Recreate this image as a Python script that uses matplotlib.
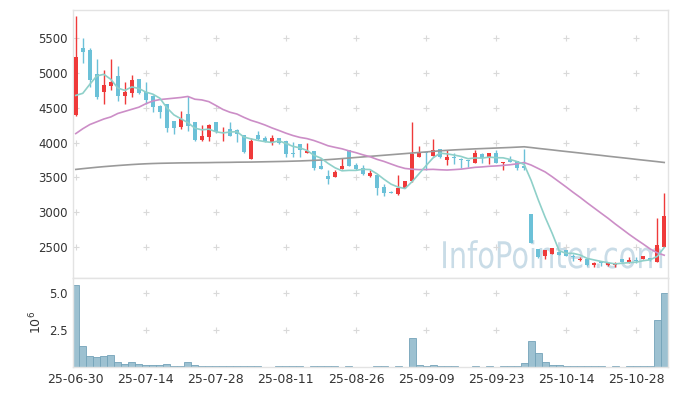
import numpy as np
import matplotlib
matplotlib.use("Agg")
import matplotlib.pyplot as plt
from matplotlib.ticker import FuncFormatter
from matplotlib.textpath import TextPath
from matplotlib.patches import PathPatch
from matplotlib.font_manager import FontProperties
from matplotlib.transforms import Affine2D


# daily candles, one per trading day (2025-06-30 .. 2025-11-03)
opens = [4400, 5360, 5330, 4990, 4730, 4810, 4960, 4670, 4720, 4910,
         4730, 4670, 4530, 4550, 4310, 4230, 4410, 4290, 4040, 4080,
         4290, 4140, 4190, 4180, 4110, 3760, 4110, 4060, 4010, 4060,
         4020, 3850, 3980, 3850, 3880, 3660, 3520, 3510, 3620, 3900,
         3680, 3640, 3520, 3540, 3360, 3290, 3260, 3350, 3440, 3800,
         3860, 3810, 3910, 3750, 3800, 3770, 3748, 3700, 3835, 3775,
         3845, 3710, 3750, 3740, 3670, 2970, 2470, 2370, 2400, 2430,
         2460, 2365, 2310, 2320, 2230, 2275, 2230, 2235, 2320, 2280,
         2300, 2330, 2335, 2285, 2490]
highs = [5820, 5500, 5370, 5210, 5040, 5210, 5100, 4870, 4980, 4910,
         4880, 4680, 4540, 4550, 4310, 4460, 4670, 4290, 4250, 4270,
         4290, 4230, 4300, 4200, 4110, 4060, 4170, 4100, 4110, 4060,
         4020, 4010, 3980, 3990, 3880, 3760, 3600, 3600, 3780, 3900,
         3700, 3680, 3600, 3540, 3410, 3300, 3540, 3450, 4300, 3950,
         3870, 4050, 3910, 3900, 3850, 3780, 3750, 3890, 3850, 3845,
         3890, 3725, 3805, 3740, 3910, 2970, 2470, 2450, 2480, 2430,
         2460, 2400, 2350, 2320, 2275, 2275, 2260, 2280, 2320, 2350,
         2350, 2370, 2340, 2920, 3270]
lows = [4390, 5140, 4800, 4630, 4560, 4760, 4600, 4560, 4650, 4700,
        4560, 4440, 4360, 4160, 4130, 4200, 4170, 4020, 4030, 4030,
        4140, 4030, 4100, 4010, 3850, 3760, 4040, 4010, 3960, 3980,
        3800, 3800, 3800, 3850, 3600, 3620, 3410, 3510, 3620, 3660,
        3600, 3530, 3510, 3250, 3230, 3270, 3250, 3340, 3430, 3790,
        3600, 3810, 3780, 3680, 3690, 3630, 3645, 3700, 3700, 3690,
        3710, 3600, 3720, 3600, 3600, 2555, 2340, 2330, 2400, 2380,
        2360, 2290, 2300, 2220, 2210, 2220, 2225, 2210, 2280, 2260,
        2260, 2330, 2290, 2280, 2490]
closes = [5240, 5300, 4900, 4650, 4830, 4880, 4670, 4730, 4900, 4720,
          4620, 4520, 4440, 4210, 4210, 4340, 4240, 4040, 4090, 4260,
          4150, 4160, 4100, 4120, 3870, 4020, 4050, 4010, 4060, 3990,
          3830, 3840, 3900, 3880, 3640, 3620, 3470, 3580, 3660, 3670,
          3620, 3550, 3560, 3350, 3280, 3270, 3340, 3450, 3840, 3860,
          3850, 3900, 3790, 3790, 3775, 3750, 3735, 3845, 3780, 3845,
          3710, 3725, 3725, 3630, 3640, 2560, 2350, 2450, 2475, 2380,
          2370, 2350, 2330, 2230, 2270, 2262, 2260, 2245, 2280, 2310,
          2295, 2365, 2310, 2525, 2950]
volumes = [5580000, 1450000, 760000, 690000, 760000, 830000, 340000, 210000, 340000, 210000,
           140000, 140000, 140000, 210000, 70000, 70000, 340000, 140000, 50000, 50000,
           50000, 50000, 50000, 50000, 50000, 50000, 50000, 5000, 5000, 40000,
           40000, 40000, 40000, 5000, 40000, 40000, 40000, 40000, 5000, 40000,
           5000, 5000, 5000, 40000, 40000, 5000, 40000, 5000, 1980000, 110000,
           40000, 150000, 40000, 40000, 40000, 5000, 5000, 40000, 5000, 40000,
           5000, 40000, 40000, 40000, 250000, 1790000, 940000, 320000, 130000, 130000,
           50000, 50000, 100000, 100000, 40000, 40000, 5000, 40000, 5000, 40000,
           40000, 40000, 40000, 3170000, 5030000]

# moving averages as drawn on the chart
ma5 = [4680, 4710, 4840, 4960, 4984, 4912, 4786, 4752, 4802, 4780,
       4728, 4698, 4640, 4502, 4400, 4344, 4288, 4208, 4184, 4194,
       4156, 4140, 4152, 4158, 4080, 4054, 4032, 4014, 4002, 4026,
       3988, 3946, 3924, 3888, 3818, 3776, 3702, 3638, 3594, 3600,
       3600, 3616, 3612, 3550, 3472, 3402, 3360, 3338, 3436, 3552,
       3668, 3780, 3848, 3838, 3821, 3801, 3768, 3779, 3777, 3791,
       3783, 3781, 3757, 3727, 3686, 3456, 3181, 2926, 2695, 2443,
       2405, 2405, 2381, 2332, 2310, 2288, 2270, 2253, 2263, 2271,
       2278, 2299, 2312, 2361, 2489]
ma20 = [4130, 4200, 4260, 4300, 4340, 4370, 4420, 4450, 4480, 4510,
        4560, 4600, 4620, 4630, 4640, 4650, 4665, 4625, 4615, 4590,
        4535, 4478, 4438, 4412, 4364, 4321, 4290, 4254, 4212, 4175,
        4136, 4102, 4075, 4058, 4030, 3994, 3955, 3932, 3911, 3881,
        3855, 3824, 3797, 3759, 3729, 3692, 3656, 3628, 3617, 3611,
        3612, 3615, 3609, 3605, 3611, 3618, 3631, 3644, 3650, 3659,
        3664, 3672, 3681, 3695, 3713, 3677, 3628, 3578, 3509, 3435,
        3361, 3284, 3211, 3133, 3058, 2983, 2909, 2829, 2754, 2678,
        2607, 2539, 2468, 2413, 2378]
ma_long = [3614, 3625, 3635, 3645, 3654, 3662, 3670, 3677, 3684, 3690,
           3695, 3699, 3702, 3704, 3706, 3708, 3709, 3710, 3711, 3712,
           3714, 3715, 3716, 3718, 3719, 3720, 3722, 3724, 3726, 3728,
           3730, 3733, 3736, 3740, 3744, 3749, 3755, 3762, 3770, 3778,
           3786, 3794, 3802, 3810, 3818, 3826, 3834, 3842, 3850, 3858,
           3866, 3874, 3882, 3889, 3895, 3900, 3905, 3910, 3914, 3918,
           3922, 3926, 3930, 3935, 3940, 3929, 3917, 3906, 3895, 3883,
           3872, 3861, 3850, 3838, 3827, 3816, 3804, 3793, 3782, 3771,
           3759, 3748, 3737, 3726, 3714]

tick_labels = ["25-06-30", "25-07-14", "25-07-28", "25-08-11", "25-08-26",
               "25-09-09", "25-09-23", "25-10-14", "25-10-28"]
price_ticks = [2500, 3000, 3500, 4000, 4500, 5000, 5500]
volume_ticks = [2500000, 5000000]

UP = "#ef3a3a"
DOWN = "#6cc1d8"
GRID = "#d9d9d9"
SPINE = "#e3e3e3"
TEXT = "#333333"


def style_axis(ax):
    for spine in ax.spines.values():
        spine.set_color(SPINE)
        spine.set_linewidth(1.0)
    ax.tick_params(length=0, colors=TEXT, labelsize=8.5)


def plus_grid(ax, xs, ys):
    gx, gy = np.meshgrid(xs, ys)
    ax.scatter(gx.ravel(), gy.ravel(), marker="+", s=22, color=GRID,
               linewidths=0.8, zorder=0)


def watermark(ax, text, left, baseline, width, cap_height):
    # text squeezed into a box given in axes fractions
    path = TextPath((0, 0), text, size=1, prop=FontProperties(family="DejaVu Sans"))
    ext = path.get_extents()
    sx = width / ext.width
    sy = cap_height / 0.729
    tr = Affine2D().translate(-ext.x0, 0).scale(sx, sy).translate(left, baseline)
    patch = PathPatch(path, transform=tr + ax.transAxes, facecolor="#c9dce7",
                      edgecolor="none", zorder=0)
    ax.add_patch(patch)


x = np.arange(len(closes))
o = np.array(opens)
c = np.array(closes)
up = c >= o
colors = np.where(up, UP, DOWN)
tick_pos = np.arange(0, len(closes), 10)[:len(tick_labels)]

fig = plt.figure(figsize=(6.77, 3.96), dpi=100)
ax = fig.add_axes([0.1078, 0.298, 0.879, 0.6767])
axv = fig.add_axes([0.1078, 0.0732, 0.879, 0.2248], sharex=ax)

watermark(ax, "InfoPointer.com", 0.622, 0.037, 0.368, 0.1)

plus_grid(ax, tick_pos, price_ticks)

# candles
ax.vlines(x, lows, highs, colors=colors, linewidth=1.0, zorder=2)
body = np.maximum(np.abs(c - o), 12)
ax.bar(x, body, bottom=np.minimum(o, c), width=0.65, color=colors,
       linewidth=0, zorder=3)

ax.plot(x, ma_long, color="#9a9a9a", linewidth=1.2, zorder=4)
ax.plot(x, ma20, color="#cc8ec7", linewidth=1.2, zorder=4)
ax.plot(x, ma5, color="#8fd0c9", linewidth=1.2, zorder=4)

ax.set_xlim(-0.4, 84.55)
ax.set_ylim(2050, 5910)
ax.set_yticks(price_ticks)
ax.tick_params(axis="x", labelbottom=False)
style_axis(ax)

# volume
plus_grid(axv, tick_pos, volume_ticks)
axv.bar(x, volumes, width=1.0, color="#9dc1d1", edgecolor="#74a3b9",
        linewidth=0.6, zorder=2)
axv.set_ylim(0, 6.03e6)
axv.set_yticks(volume_ticks)
axv.yaxis.set_major_formatter(FuncFormatter(lambda v, _: f"{v / 1e6:.1f}"))
axv.set_ylabel(r"$10^6$", fontsize=9, color=TEXT, labelpad=4)
axv.set_xticks(tick_pos)
axv.set_xticklabels(tick_labels)
style_axis(axv)
axv.tick_params(axis="x", labelsize=9, pad=4)

fig.savefig("out.png", dpi=100)
